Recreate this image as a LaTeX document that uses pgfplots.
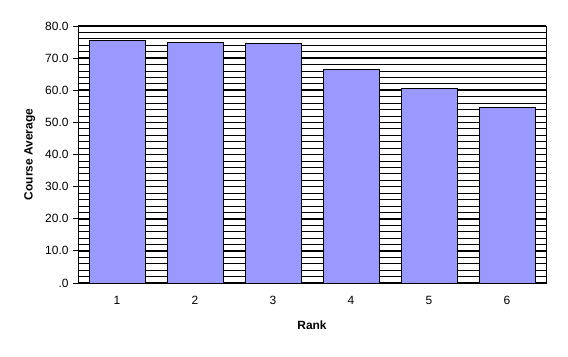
\documentclass[border=0pt]{standalone}
\usepackage{pgfplots}
\pgfplotsset{compat=1.18}
\usepackage{fontspec}
\setmainfont{Liberation Sans}
\begin{document}
\begin{tikzpicture}[x=1bp,y=1bp]
\useasboundingbox (0,0) rectangle (568,356);
\begin{axis}[
  at={(78bp,73bp)}, anchor=south west,
  scale only axis, width=468bp, height=257bp,
  xmin=0.5, xmax=6.5, ymin=0, ymax=80,
  axis line style={line width=0.9bp, black},
  xtick={1,2,3,4,5,6},
  xticklabels={1,2,3,4,5,6},
  major x tick style={draw=none},
  extra x ticks={0.5,1.5,2.5,3.5,4.5,5.5,6.5},
  extra x tick labels={},
  extra x tick style={major tick length=5bp, tick style={line width=0.9bp, black}, grid=none},
  xtick pos=bottom, ytick pos=left, tick align=outside,
  ytick={0,10,...,80},
  yticklabels={.0,10.0,20.0,30.0,40.0,50.0,60.0,70.0,80.0},
  minor y tick num=4,
  ymajorgrids, yminorgrids,
  major grid style={line width=1.6bp, black},
  minor grid style={line width=0.8bp, black},
  major tick length=5bp, minor tick length=0bp,
  ytick style={line width=0.9bp, black},
  tick label style={font=\fontsize{12}{14}\selectfont},
  xticklabel style={yshift=-5bp},
  yticklabel style={xshift=-1bp},
  xlabel={\textbf{Rank}}, ylabel={\textbf{Course Average}},
  label style={font=\fontsize{12}{14}\selectfont},
  xlabel style={at={(axis description cs:0.5,-0.163)}, anchor=center},
  ylabel style={at={(axis description cs:-0.103,0.5)}, anchor=center},
  ybar, bar width=56bp,
]
\addplot[fill={rgb,255:red,153;green,153;blue,255}, draw=black, line width=0.9bp, bar shift=0pt]
  coordinates {(1,75.6) (2,74.9) (3,74.6) (4,66.5) (5,60.7) (6,54.5)};
\end{axis}
\end{tikzpicture}
\end{document}
